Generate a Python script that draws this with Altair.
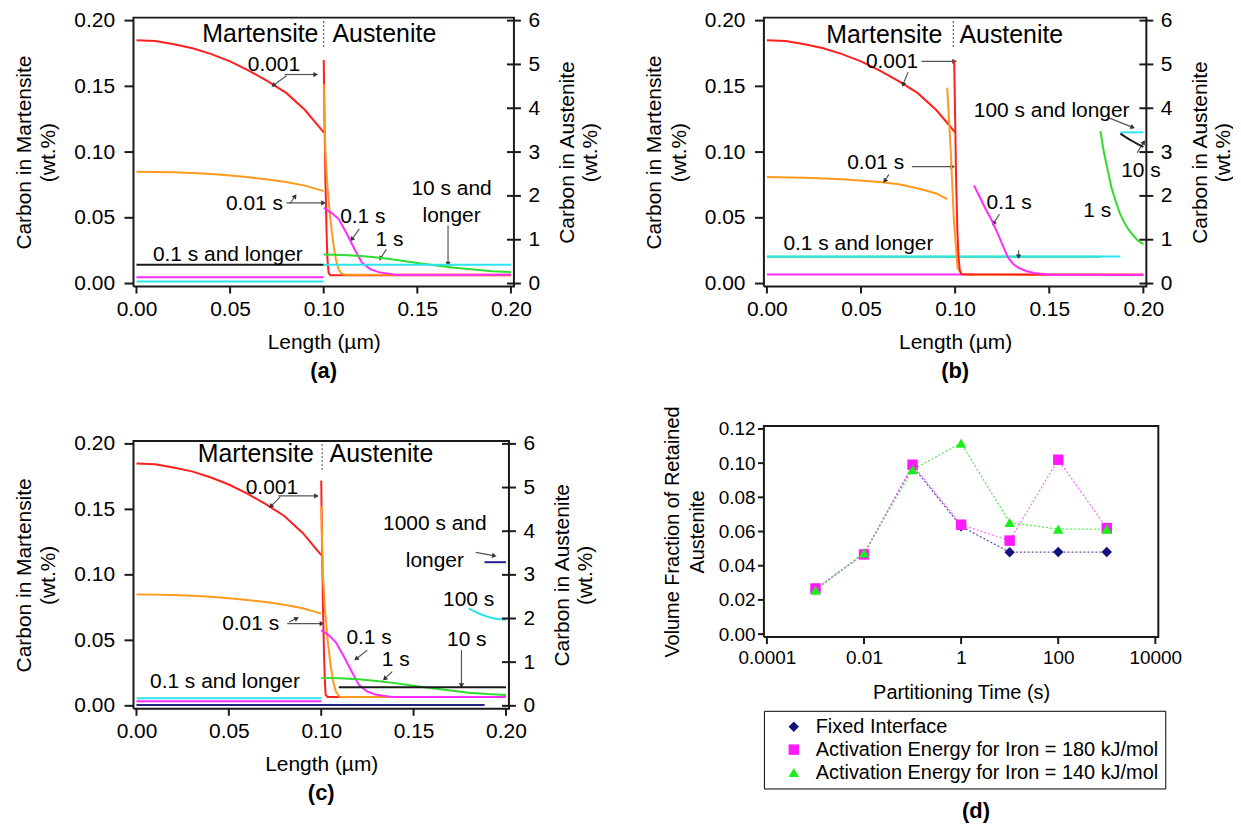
import math
import altair as alt
import pandas as pd

FONT = "Liberation Sans"

# ---------------- shared ticks / domains ----------------
X_DOMAIN = [0.0, 0.2]
YL_DOMAIN = [0.0, 0.2]
YR_DOMAIN = [0, 6]
X_TICKS = [0.0, 0.05, 0.10, 0.15, 0.20]
YL_TICKS = [0.0, 0.05, 0.10, 0.15, 0.20]
YR_TICKS = [0, 1, 2, 3, 4, 5, 6]

# ---------------- panel (a) ----------------
MART_X = [0.0, 0.01, 0.02, 0.03, 0.04, 0.05, 0.06, 0.07, 0.08, 0.09, 0.10]
A_RED_M = [0.185, 0.1845, 0.182, 0.179, 0.1745, 0.169, 0.162, 0.154, 0.145, 0.132, 0.115]
A_ORG_M = [0.085, 0.0849, 0.0846, 0.0841, 0.0833, 0.0822, 0.0808, 0.0792, 0.0772, 0.0745, 0.0703]
FLAT_MX = [0.0, 0.10]
A_BLK_M = [0.0143, 0.0143]
A_PNK_M = [0.0048, 0.0048]
A_CYN_M = [0.0016, 0.0016]

A_RED_AX = [0.1, 0.1004, 0.1009, 0.1015, 0.102, 0.1026, 0.1035, 0.2]
A_RED_AY = [5.1, 3.8, 2.4, 1.2, 0.55, 0.25, 0.19, 0.19]
A_ORG_AX = [0.1, 0.1009, 0.102, 0.1035, 0.105, 0.1065, 0.108, 0.1095, 0.111, 0.2]
A_ORG_AY = [4.55, 3.0, 2.2, 1.5, 0.95, 0.55, 0.32, 0.23, 0.2, 0.2]
A_PNK_AX = [0.1, 0.104, 0.108, 0.1124, 0.1169, 0.1204, 0.1248, 0.1293, 0.138, 0.2]
A_PNK_AY = [1.73, 1.62, 1.47, 1.13, 0.75, 0.48, 0.33, 0.26, 0.2, 0.2]
A_GRN_AX = [0.1, 0.11, 0.12, 0.13, 0.14, 0.15, 0.16, 0.17, 0.18, 0.19, 0.2]
A_GRN_AY = [0.66, 0.65, 0.63, 0.59, 0.53, 0.47, 0.41, 0.36, 0.32, 0.28, 0.26]
A_CYN_AX = [0.1, 0.2]
A_CYN_AY = [0.43, 0.43]

A_TXT = ["0.001", "0.01 s", "0.1 s", "1 s", "10 s and", "longer", "0.1 s and longer"]
A_TXT_X = [0.0734, 0.063, 0.1209, 0.1351, 0.1683, 0.1683, 0.0488]
A_TXT_Y = [0.1665, 0.0605, 0.0504, 0.0328, 0.0719, 0.0517, 0.0214]
A_ARR_X1 = [0.0791, 0.0801, 0.0801, 0.0818, 0.119, 0.1335, 0.1664]
A_ARR_Y1 = [0.159, 0.158, 0.0613, 0.0605, 0.0416, 0.026, 0.0441]
A_ARR_X2 = [0.0953, 0.0734, 0.0995, 0.0845, 0.1152, 0.1305, 0.1664]
A_ARR_Y2 = [0.159, 0.151, 0.0613, 0.066, 0.034, 0.0195, 0.0155]
A_BIG_X = [0.0972, 0.1047]
A_BIG_Y = [0.1895, 0.1895]
A_DIV = [0.1, 0.18, 0.2]

# ---------------- panel (b) ----------------
B_RED_M = [0.185, 0.1845, 0.182, 0.179, 0.1745, 0.169, 0.162, 0.154, 0.145, 0.132, 0.115]
B_ORG_MX = [0.0, 0.02, 0.04, 0.06, 0.07, 0.08, 0.09, 0.0958]
B_ORG_M = [0.081, 0.0805, 0.0793, 0.0772, 0.0755, 0.0725, 0.0685, 0.0642]
B_PNK_MX = [0.0, 0.11]
B_PNK_M = [0.0068, 0.0068]
B_GRN_MX = [0.0, 0.1772]
B_GRN_M = [0.0203, 0.0203]
B_CYN_MX = [0.0, 0.1878]
B_CYN_M = [0.0206, 0.0206]

B_RED_AX = [0.0995, 0.1, 0.1005, 0.1012, 0.1018, 0.1025, 0.1034, 0.2]
B_RED_AY = [5.1, 3.8, 2.4, 1.2, 0.6, 0.3, 0.21, 0.2]
B_ORG_AX = [0.0958, 0.0977, 0.0993, 0.1013, 0.1034, 0.106, 0.2]
B_ORG_AY = [4.47, 3.0, 1.48, 0.35, 0.22, 0.2, 0.2]
B_PNK_AX = [0.110, 0.113, 0.116, 0.119, 0.122, 0.125, 0.128, 0.131, 0.134, 0.138, 0.142, 0.15, 0.2]
B_PNK_AY = [2.24, 1.98, 1.72, 1.48, 1.2, 0.9, 0.6, 0.44, 0.35, 0.28, 0.24, 0.2, 0.2]
B_GRN_AX = [0.1772, 0.179, 0.181, 0.183, 0.1852, 0.1875, 0.19, 0.192, 0.194, 0.197, 0.2]
B_GRN_AY = [3.48, 3.0, 2.6, 2.2, 1.89, 1.6, 1.38, 1.24, 1.13, 0.98, 0.9]
B_CYN_AX = [0.1878, 0.2]
B_CYN_AY = [3.45, 3.45]
B_BLK_AX = [0.1878, 0.19, 0.1925, 0.195, 0.1975, 0.2]
B_BLK_AY = [3.42, 3.36, 3.29, 3.23, 3.17, 3.12]

B_TXT = ["0.001", "0.01 s", "0.1 s", "0.1 s and longer", "100 s and longer", "10 s", "1 s"]
B_TXT_X = [0.0665, 0.0578, 0.1287, 0.0486, 0.1513, 0.1987, 0.1755]
B_TXT_Y = [0.1684, 0.0919, 0.0615, 0.0304, 0.131, 0.0856, 0.0553]
B_ARR_X1 = [0.0821, 0.075, 0.077, 0.0648, 0.1236, 0.1337, 0.1817, 0.1967]
B_ARR_Y1 = [0.169, 0.1608, 0.0889, 0.083, 0.0527, 0.0253, 0.126, 0.0995]
B_ARR_X2 = [0.0993, 0.0725, 0.0983, 0.0628, 0.1206, 0.1337, 0.194, 0.2]
B_ARR_Y2 = [0.169, 0.1519, 0.0889, 0.0785, 0.0463, 0.021, 0.119, 0.107]
B_BIG_X = [0.0932, 0.1023]
B_BIG_Y = [0.1894, 0.1894]
B_DIV = [0.099, 0.18, 0.2]

# ---------------- panel (c) ----------------
C_RED_M = [0.185, 0.1845, 0.182, 0.179, 0.1745, 0.169, 0.162, 0.154, 0.145, 0.132, 0.115]
C_ORG_M = [0.085, 0.0849, 0.0846, 0.0841, 0.0833, 0.0822, 0.0808, 0.0792, 0.0772, 0.0745, 0.0704]
C_NAV_MX = [0.0, 0.1884]
C_NAV_M = [0.0006, 0.0006]
C_PNK_M = [0.0035, 0.0035]
C_CYN_M = [0.0058, 0.0058]

C_RED_AX = [0.1, 0.1004, 0.1009, 0.1015, 0.102, 0.1024, 0.1035, 0.2]
C_RED_AY = [5.16, 3.8, 2.4, 1.2, 0.55, 0.25, 0.2, 0.2]
C_ORG_AX = [0.1, 0.1009, 0.102, 0.1035, 0.105, 0.1065, 0.108, 0.1095, 0.1105, 0.2]
C_ORG_AY = [4.58, 3.0, 2.2, 1.5, 0.95, 0.55, 0.32, 0.23, 0.2, 0.2]
C_PNK_AX = [0.1, 0.104, 0.108, 0.1124, 0.1169, 0.1204, 0.1248, 0.1293, 0.138, 0.2]
C_PNK_AY = [1.73, 1.62, 1.45, 1.12, 0.75, 0.48, 0.33, 0.26, 0.2, 0.2]
C_GRN_AX = [0.1, 0.11, 0.12, 0.13, 0.14, 0.15, 0.16, 0.17, 0.18, 0.19, 0.2]
C_GRN_AY = [0.64, 0.63, 0.61, 0.57, 0.52, 0.46, 0.4, 0.35, 0.3, 0.27, 0.25]
C_BLK_AX = [0.1095, 0.2]
C_BLK_AY = [0.425, 0.425]
C_CYN_AX = [0.1798, 0.185, 0.19, 0.195, 0.2]
C_CYN_AY = [2.23, 2.12, 2.04, 1.99, 1.97]
C_NAV_AX = [0.1884, 0.2]
C_NAV_AY = [3.29, 3.29]

C_TXT = ["0.001", "0.01 s", "0.1 s", "1 s", "10 s", "100 s", "1000 s and", "longer", "0.1 s and longer"]
C_TXT_X = [0.0733, 0.0618, 0.1259, 0.1403, 0.1788, 0.1798, 0.1615, 0.1615, 0.0479]
C_TXT_Y = [0.1666, 0.0628, 0.0514, 0.0349, 0.0501, 0.0805, 0.1387, 0.1109, 0.0185]
C_ARR_X1 = [0.0768, 0.0778, 0.0816, 0.0826, 0.1249, 0.1384, 0.1759, 0.1836]
C_ARR_Y1 = [0.1603, 0.1595, 0.0628, 0.064, 0.0425, 0.0261, 0.0425, 0.1172]
C_ARR_X2 = [0.097, 0.073, 0.1, 0.0864, 0.1192, 0.1346, 0.1759, 0.1933]
C_ARR_Y2 = [0.1603, 0.1527, 0.0628, 0.0666, 0.0362, 0.021, 0.016, 0.1147]
C_BIG_X = [0.096, 0.1045]
C_BIG_Y = [0.1919, 0.1919]
C_DIV = [0.1005, 0.18, 0.2]

# ---------------- panel (d) ----------------
D_T = [0.001, 0.01, 0.1, 1, 10, 100, 1000]
D_FIXED = [0.0261, 0.047, 0.0982, 0.063, 0.0479, 0.048, 0.048]
D_E180 = [0.0267, 0.0466, 0.0991, 0.064, 0.0547, 0.102, 0.062]
D_E140 = [0.0257, 0.0475, 0.0962, 0.1117, 0.0653, 0.0614, 0.0614]
D_SERIES = ["Fixed Interface",
            "Activation Energy for Iron = 180 kJ/mol",
            "Activation Energy for Iron = 140 kJ/mol"]
D_XDOMAIN = [0.0001, 10000]
D_YDOMAIN = [0.0, 0.12]
D_XTICKS = [0.0001, 0.01, 1, 100, 10000]
D_YTICKS = [0.0, 0.02, 0.04, 0.06, 0.08, 0.10, 0.12]

# ---------------- styles ----------------
RED, ORANGE, PINK, GREEN = "#ff1f1f", "#ff9a1e", "#ff2bff", "#2fdc2f"
CYAN, BLACK, NAVY = "#2de3ef", "#1a1a1a", "#23238c"
D_COLORS = ["#12127a", "#ff19ff", "#19ee19"]
D_LINE_COLORS = ["#5a5aa8", "#ff70ff", "#5ce65c"]
D_SHAPES = ["diamond", "square", "triangle-up"]
FRAME_COLOR = "#1a1a1a"
FRAME_W = 2
FRAME_OUT = 3  # frame drawn just outside the plotting area
AX = dict(domain=False, ticks=False, labelColor="#000000", titleColor="#000000",
          grid=False, labelFont=FONT, titleFont=FONT, titleFontWeight="normal",
          labelFlush=False, labelOverlap=False)


def frame(curves):
    rows = []
    for k, (color, xs, ys) in enumerate(curves):
        for i, (x, y) in enumerate(zip(xs, ys)):
            rows.append({"s": f"s{k:02d}", "c": color, "i": i, "x": x, "y": y})
    return pd.DataFrame(rows)


def border_df(xd, yd, px, py, W, H, xn="x", yn="y", log=False):
    """plot outline moved px/py pixels outward, expressed in the scale domains"""
    if log:
        lx0, lx1 = math.log10(xd[0]), math.log10(xd[1])
        ex = (lx1 - lx0) * px / W
        x0, x1 = 10 ** (lx0 - ex), 10 ** (lx1 + ex)
    else:
        ex = (xd[1] - xd[0]) * px / W
        x0, x1 = xd[0] - ex, xd[1] + ex
    ey = (yd[1] - yd[0]) * py / H
    y0, y1 = yd[0] - ey, yd[1] + ey
    return pd.DataFrame({xn: [x0, x1, x1, x0, x0], yn: [y0, y0, y1, y1, y0],
                         "i": list(range(5))})


def profile_panel(mart, aust, txt, arr, big, div, W, H, tag):
    X = alt.X("x:Q", scale=alt.Scale(domain=X_DOMAIN, nice=False, zero=False),
              axis=alt.Axis(values=X_TICKS, format=".2f", title="Length (µm)",
                            labelPadding=15, titlePadding=12,
                            labelFontSize=21, titleFontSize=21, **AX))
    YL = alt.Y("y:Q", scale=alt.Scale(domain=YL_DOMAIN, nice=False),
               axis=alt.Axis(values=YL_TICKS, format=".2f",
                             title=["Carbon in Martensite", "(wt.%)"],
                             labelPadding=22, titlePadding=15,
                             labelFontSize=21, titleFontSize=21, titleLineHeight=25, **AX))
    YR = alt.Y("y:Q", scale=alt.Scale(domain=YR_DOMAIN, nice=False),
               axis=alt.Axis(orient="right", values=YR_TICKS, format="d",
                             title=["Carbon in Austenite", "(wt.%)"],
                             titleAngle=270, titleBaseline="top", titleAlign="center",
                             titleX=46, titleY=H / 2, labelPadding=17,
                             labelFontSize=21, titleFontSize=21, titleLineHeight=23, **AX))

    mart_l = alt.Chart(frame(mart)).mark_line(strokeWidth=2).encode(
        x=X, y=YL, color=alt.Color("c:N", scale=None), detail="s:N", order="i:Q")
    aust_l = alt.Chart(frame(aust)).mark_line(strokeWidth=2).encode(
        x=X, y=YR, color=alt.Color("c:N", scale=None), detail="s:N", order="i:Q")

    dv = alt.Chart(pd.DataFrame({"x": [div[0]], "y": [div[1]], "y2": [div[2]]})).mark_rule(
        strokeDash=[2, 2], color="#444444", strokeWidth=1).encode(x=X, y=YL, y2="y2:Q")

    x1, y1, x2, y2 = arr
    adf = pd.DataFrame({"x": x1, "y": y1, "x2": x2, "y2": y2})
    arrows = alt.Chart(adf).mark_rule(color="#555555", strokeWidth=1.2).encode(
        x=X, y=YL, x2="x2:Q", y2="y2:Q")
    hrows = []
    for a, b, c, d in zip(x1, y1, x2, y2):
        dx = (c - a) / 0.2 * W
        dy = -(d - b) / 0.2 * H
        ang = math.degrees(math.atan2(dx, -dy)) % 360
        hrows.append({"x": c, "y": d, "ang": ang})
    heads = alt.Chart(pd.DataFrame(hrows)).mark_point(
        shape="triangle", filled=True, size=28, color="#333333", opacity=1).encode(
        x=X, y=YL, angle=alt.Angle("ang:Q", scale=None))

    t, tx, ty = txt
    texts = alt.Chart(pd.DataFrame({"x": tx, "y": ty, "t": t})).mark_text(
        font=FONT, fontSize=21, color="black").encode(x=X, y=YL, text="t:N")

    bx, by = big
    mart_t = alt.Chart(pd.DataFrame({"x": [bx[0]], "y": [by[0]], "t": ["Martensite"]})).mark_text(
        font=FONT, fontSize=25, align="right", color="black").encode(x=X, y=YL, text="t:N")
    aust_t = alt.Chart(pd.DataFrame({"x": [bx[1]], "y": [by[1]], "t": ["Austenite"]})).mark_text(
        font=FONT, fontSize=25, align="left", color="black").encode(x=X, y=YL, text="t:N")

    # ticks and plot frame
    xt = alt.Chart(pd.DataFrame({"x": X_TICKS})).mark_rule(
        color=FRAME_COLOR, strokeWidth=FRAME_W).encode(
        x=X, y=alt.value(H + FRAME_OUT), y2=alt.value(H + FRAME_OUT + 7))
    ylt = alt.Chart(pd.DataFrame({"y": YL_TICKS})).mark_rule(
        color=FRAME_COLOR, strokeWidth=FRAME_W).encode(
        y=YL, x=alt.value(-FRAME_OUT - 9), x2=alt.value(-FRAME_OUT))
    yrt = alt.Chart(pd.DataFrame({"y": YR_TICKS})).mark_rule(
        color=FRAME_COLOR, strokeWidth=FRAME_W).encode(
        y=YR, x=alt.value(W - 4), x2=alt.value(W + FRAME_OUT + 7))
    box = alt.Chart(border_df(X_DOMAIN, YR_DOMAIN, FRAME_OUT, FRAME_OUT, W, H)).mark_line(
        color=FRAME_COLOR, strokeWidth=FRAME_W).encode(x=X, y=YR, order="i:Q")

    left = alt.layer(mart_l, dv, arrows, heads, texts, mart_t, aust_t, xt, ylt)
    right = alt.layer(aust_l, yrt, box)
    return alt.layer(left, right).resolve_scale(y="independent").properties(
        width=W, height=H,
        title=alt.TitleParams(tag, orient="bottom", fontSize=22, fontWeight="bold",
                              font=FONT, offset=9, anchor="middle", frame="group"))


pa = profile_panel(
    [(RED, MART_X, A_RED_M), (ORANGE, MART_X, A_ORG_M), (BLACK, FLAT_MX, A_BLK_M),
     (PINK, FLAT_MX, A_PNK_M), (CYAN, FLAT_MX, A_CYN_M)],
    [(RED, A_RED_AX, A_RED_AY), (ORANGE, A_ORG_AX, A_ORG_AY), (PINK, A_PNK_AX, A_PNK_AY),
     (GREEN, A_GRN_AX, A_GRN_AY), (CYAN, A_CYN_AX, A_CYN_AY)],
    (A_TXT, A_TXT_X, A_TXT_Y), (A_ARR_X1, A_ARR_Y1, A_ARR_X2, A_ARR_Y2),
    (A_BIG_X, A_BIG_Y), A_DIV, 376, 264, "(a)")

pb = profile_panel(
    [(RED, MART_X, B_RED_M), (ORANGE, B_ORG_MX, B_ORG_M), (PINK, B_PNK_MX, B_PNK_M),
     (GREEN, B_GRN_MX, B_GRN_M), (CYAN, B_CYN_MX, B_CYN_M)],
    [(ORANGE, B_ORG_AX, B_ORG_AY), (RED, B_RED_AX, B_RED_AY), (PINK, B_PNK_AX, B_PNK_AY),
     (GREEN, B_GRN_AX, B_GRN_AY), (CYAN, B_CYN_AX, B_CYN_AY), (BLACK, B_BLK_AX, B_BLK_AY)],
    (B_TXT, B_TXT_X, B_TXT_Y), (B_ARR_X1, B_ARR_Y1, B_ARR_X2, B_ARR_Y2),
    (B_BIG_X, B_BIG_Y), B_DIV, 378, 264, "(b)")

pc = profile_panel(
    [(RED, MART_X, C_RED_M), (ORANGE, MART_X, C_ORG_M), (NAVY, C_NAV_MX, C_NAV_M),
     (PINK, FLAT_MX, C_PNK_M), (CYAN, FLAT_MX, C_CYN_M)],
    [(RED, C_RED_AX, C_RED_AY), (ORANGE, C_ORG_AX, C_ORG_AY), (PINK, C_PNK_AX, C_PNK_AY),
     (GREEN, C_GRN_AX, C_GRN_AY), (BLACK, C_BLK_AX, C_BLK_AY), (CYAN, C_CYN_AX, C_CYN_AY),
     (NAVY, C_NAV_AX, C_NAV_AY)],
    (C_TXT, C_TXT_X, C_TXT_Y), (C_ARR_X1, C_ARR_Y1, C_ARR_X2, C_ARR_Y2),
    (C_BIG_X, C_BIG_Y), C_DIV, 371, 263, "(c)")

# ---------------- panel (d) chart ----------------
d_rows = []
for name, lc, vals in zip(D_SERIES, D_LINE_COLORS, [D_FIXED, D_E180, D_E140]):
    for t, v in zip(D_T, vals):
        d_rows.append({"series": name, "lc": lc, "t": t, "v": v})
dd = pd.DataFrame(d_rows)
DW, DH = 390, 206

XD = alt.X("t:Q", scale=alt.Scale(type="log", domain=D_XDOMAIN, nice=False),
           axis=alt.Axis(values=D_XTICKS, format="~g", title="Partitioning Time (s)",
                         labelPadding=15, titlePadding=15,
                         labelFontSize=19, titleFontSize=20, **AX))
YD = alt.Y("v:Q", scale=alt.Scale(domain=D_YDOMAIN, nice=False),
           axis=alt.Axis(values=D_YTICKS, format=".2f",
                         title=["Volume Fraction of Retained", "Austenite"],
                         labelPadding=12, titlePadding=11, titleLineHeight=25,
                         labelFontSize=19, titleFontSize=20, **AX))
LEG = alt.Legend(title=None, orient="none", legendX=-3, legendY=283, direction="vertical",
                 strokeColor="black", fillColor="white", padding=6,
                 labelFontSize=20, labelFont=FONT, labelColor="black",
                 symbolSize=110, symbolOffset=14,
                 labelOffset=12, rowPadding=3, labelLimit=600)
d_lines = alt.Chart(dd).mark_line(strokeDash=[2, 2], strokeWidth=1.3).encode(
    x=XD, y=YD, color=alt.Color("lc:N", scale=None), detail="series:N")
d_pts = alt.Chart(dd).mark_point(filled=True, size=110, opacity=1).encode(
    x=XD, y=YD,
    color=alt.Color("series:N", scale=alt.Scale(domain=D_SERIES, range=D_COLORS), legend=LEG),
    shape=alt.Shape("series:N", scale=alt.Scale(domain=D_SERIES, range=D_SHAPES), legend=LEG))
d_xt = alt.Chart(pd.DataFrame({"t": D_XTICKS})).mark_rule(
    color=FRAME_COLOR, strokeWidth=FRAME_W).encode(
    x=XD, y=alt.value(DH + FRAME_OUT), y2=alt.value(DH + FRAME_OUT + 7))
d_yt = alt.Chart(pd.DataFrame({"v": D_YTICKS})).mark_rule(
    color=FRAME_COLOR, strokeWidth=FRAME_W).encode(
    y=YD, x=alt.value(-FRAME_OUT - 6), x2=alt.value(-FRAME_OUT))
d_box = alt.Chart(border_df(D_XDOMAIN, D_YDOMAIN, FRAME_OUT, FRAME_OUT, DW, DH,
                            "t", "v", log=True)).mark_line(
    color=FRAME_COLOR, strokeWidth=FRAME_W).encode(x=XD, y=YD, order="i:Q")
pd_ = alt.layer(d_lines, d_pts, d_xt, d_yt, d_box).properties(
    width=DW, height=DH,
    title=alt.TitleParams("(d)", orient="bottom", fontSize=22, fontWeight="bold",
                          font=FONT, offset=12, anchor="middle", frame="group", dx=15))

left_col = alt.vconcat(pa, pc, spacing=51).resolve_scale(color="independent", shape="independent")
right_col = alt.vconcat(pb, pd_, spacing=23).resolve_scale(color="independent", shape="independent")
chart = alt.hconcat(left_col, right_col, spacing=43).resolve_scale(
    color="independent", shape="independent").properties(
    padding={"left": 5, "top": 0, "right": 0, "bottom": 0}
).configure_view(stroke=None)

chart.save("out.html", embed_options={"renderer": "svg", "actions": False})
